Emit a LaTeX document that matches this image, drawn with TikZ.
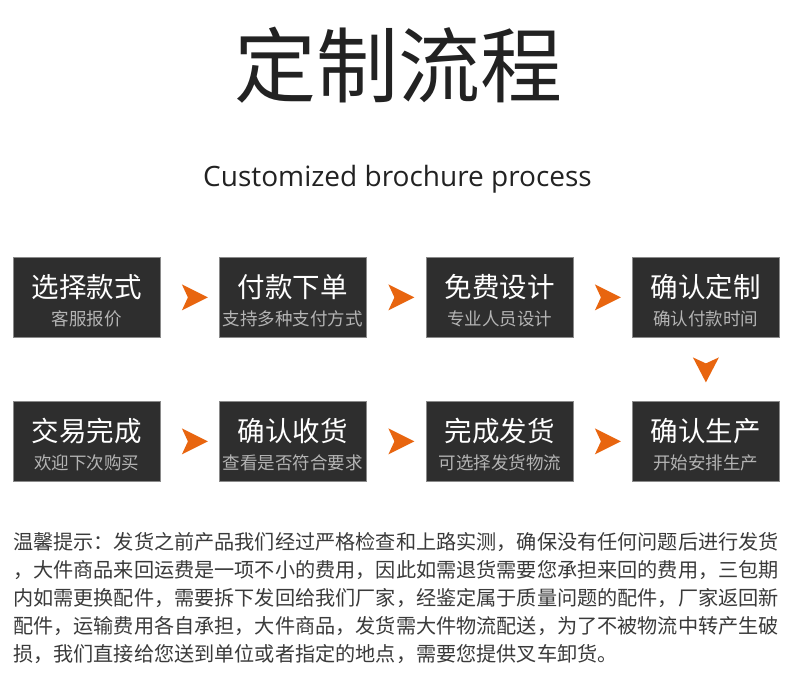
\documentclass[tikz,border=0pt]{standalone}
\usepackage{fontspec}
\setmainfont{Noto Sans CJK SC}
\newfontfamily\subfont{Open Sans}
\definecolor{boxfill}{HTML}{2E2E2E}
\definecolor{boxline}{HTML}{8A8A8A}
\definecolor{subgray}{HTML}{B4B4B4}
\definecolor{arrowor}{HTML}{E8650F}
\definecolor{ink}{HTML}{222222}
\definecolor{bodyink}{HTML}{3A3A3A}
\begin{document}
\begin{tikzpicture}[x=1pt,y=-1pt,
  stepbox/.style={draw=boxline,line width=0.8pt,fill=boxfill,minimum width=147pt,minimum height=80pt,inner sep=0pt,anchor=north west},
  maintext/.style={text=white,font=\fontsize{27.5}{28}\selectfont,inner sep=0pt},
  subtext/.style={text=subgray,font=\fontsize{17.5}{18}\selectfont,inner sep=0pt},
  bodyline/.style={text=bodyink,font=\fontsize{20.15}{21}\selectfont,inner sep=0pt,anchor=west},
  arrowshape/.style={fill=arrowor,draw=none}]
\useasboundingbox[fill=white] (0,0) rectangle (790,687);

\node[text=ink,font=\fontsize{82}{84}\selectfont,inner sep=0pt] (title) at (398,65) {定制流程};
\node[text=ink,font=\subfont\fontsize{28}{30}\selectfont,inner sep=0pt,anchor=base] (subtitle) at (397.5,187) {Customized brochure process};

% row 1
\node[stepbox] (b1) at (13,257) {};
\node[stepbox] (b2) at (219,257) {};
\node[stepbox] (b3) at (426,257) {};
\node[stepbox] (b4) at (632,257) {};
% row 2
\node[stepbox] (b5) at (13,401) {};
\node[stepbox] (b6) at (219,401) {};
\node[stepbox] (b7) at (426,401) {};
\node[stepbox] (b8) at (632,401) {};

\foreach \b/\m/\s in {b1/选择款式/客服报价, b2/付款下单/支持多种支付方式, b3/免费设计/专业人员设计, b4/确认定制/确认付款时间,
  b5/交易完成/欢迎下次购买, b6/确认收货/查看是否符合要求, b7/完成发货/可选择发货物流, b8/确认生产/开始安排生产}{
  \node[maintext] (\b-m) at ([yshift=-30]\b.north) {\m};
  \node[subtext] (\b-s) at ([yshift=-62]\b.north) {\s};
}

% horizontal arrows
\foreach \l/\r/\n in {b1/b2/a1, b2/b3/a2, b3/b4/a3, b5/b6/a5, b6/b7/a6, b7/b8/a7}{
  \path (\l.east) -- (\r.west) coordinate[pos=0.5] (\n);
  \fill[arrowshape] ([shift={(-8,-13)}]\n) -- ([shift={(18,0)}]\n) -- ([shift={(-8,13)}]\n) -- ([shift={(-2,0)}]\n) -- cycle;
}
% down arrow
\path (b4.south) -- (b8.north) coordinate[pos=0.5] (a4);
\fill[arrowshape] ([shift={(-13,-12)}]a4) -- ([shift={(0,-6)}]a4) -- ([shift={(13,-12)}]a4) -- ([shift={(0,13)}]a4) -- cycle;

% notes
\node[bodyline] (n1) at (13,542) {温馨提示：发货之前产品我们经过严格检查和上路实测，确保没有任何问题后进行发货};
\node[bodyline] (n2) at (13,570) {，大件商品来回运费是一项不小的费用，因此如需退货需要您承担来回的费用，三包期};
\node[bodyline] (n3) at (13,598) {内如需更换配件，需要拆下发回给我们厂家，经鉴定属于质量问题的配件，厂家返回新};
\node[bodyline] (n4) at (13,626) {配件，运输费用各自承担，大件商品，发货需大件物流配送，为了不被物流中转产生破};
\node[bodyline] (n5) at (13,654) {损，我们直接给您送到单位或者指定的地点，需要您提供叉车卸货。};
\end{tikzpicture}
\end{document}
